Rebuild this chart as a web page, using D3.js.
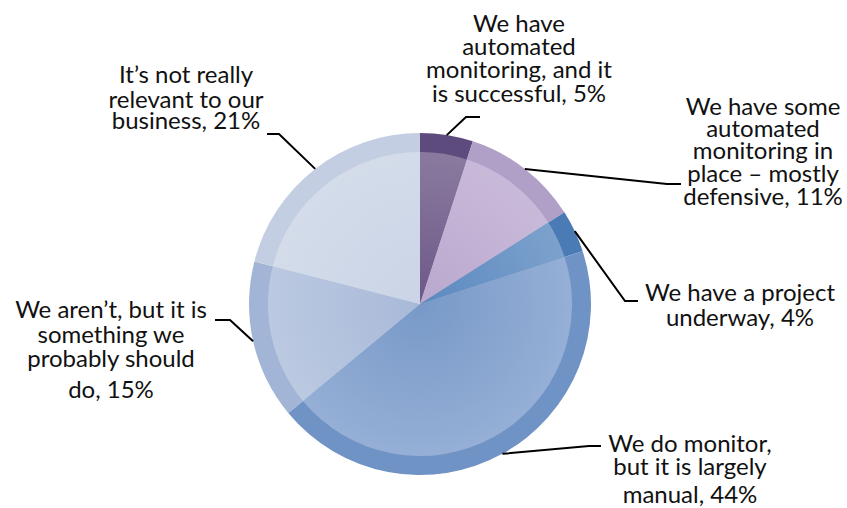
<!DOCTYPE html>
<html>
<head>
<meta charset="utf-8">
<script src="https://cdn.jsdelivr.net/npm/d3@7"></script>
<style>
  html, body { margin: 0; padding: 0; background: #ffffff; }
  svg { display: block; }
  .lbl { font-family: Lato, "Open Sans", sans-serif; font-size: 24px; fill: #111; }
</style>
</head>
<body>
<svg id="chart" width="847" height="508"></svg>
<script>
// Survey responses, clockwise from 12 o'clock
const categories = [
  "We have automated monitoring, and it is successful",
  "We have some automated monitoring in place – mostly defensive",
  "We have a project underway",
  "We do monitor, but it is largely manual",
  "We aren’t, but it is something we probably should do",
  "It’s not really relevant to our business"
];
const values = [5, 11, 4, 44, 15, 21];

// Label text broken into lines
const labelLines = [
  ["We have", "automated", "monitoring, and it", "is successful, 5%"],
  ["We have some", "automated", "monitoring in", "place – mostly", "defensive, 11%"],
  ["We have a project", "underway, 4%"],
  ["We do monitor,", "but it is largely", "manual, 44%"],
  ["We aren’t, but it is", "something we", "probably should", "do, 15%"],
  ["It’s not really", "relevant to our", "business, 21%"]
];

// Colours: solid rim, gradient centre and gradient edge
const rimColors   = ["#5e4b7e", "#b09fc6", "#4a7bb5", "#7093c5", "#a3b5d6", "#c3cee3"];
const innerStart  = ["#6c5888", "#b9a8cd", "#5b89c0", "#7899c7", "#a8b9d8", "#cad4e6"];
const innerEnd    = ["#8a7a9f", "#c9b9d9", "#7ca1cc", "#95afd6", "#bbc9e1", "#d4dcea"];

const width = 847, height = 508;
const cx = 420, cy = 304;
const rOuter = 171, rInner = 152;

const svg = d3.select("#chart");
const defs = svg.append("defs");

values.forEach((v, i) => {
  const g = defs.append("radialGradient")
    .attr("id", "grad" + i)
    .attr("gradientUnits", "userSpaceOnUse")
    .attr("cx", cx).attr("cy", cy).attr("r", rInner);
  g.append("stop").attr("offset", "0%").attr("stop-color", innerStart[i]);
  g.append("stop").attr("offset", "100%").attr("stop-color", innerEnd[i]);
});

const pie = d3.pie().sort(null).value(d => d);
const arcs = pie(values);

const rimArc = d3.arc().innerRadius(0).outerRadius(rOuter);
const coreArc = d3.arc().innerRadius(0).outerRadius(rInner);

const gPie = svg.append("g").attr("transform", `translate(${cx},${cy})`);

gPie.selectAll("path.rim")
  .data(arcs)
  .join("path")
  .attr("class", "rim")
  .attr("d", rimArc)
  .attr("fill", (d, i) => rimColors[i]);

gPie.selectAll("path.core")
  .data(arcs)
  .join("path")
  .attr("class", "core")
  .attr("d", coreArc)
  .attr("fill", (d, i) => `url(#grad${i})`)
  .attr("transform", `translate(${-cx},${-cy})`)
  .attr("d", d => {
    // core drawn in page coordinates so the gradient centre lines up
    const p = d3.path();
    const a0 = d.startAngle - Math.PI / 2, a1 = d.endAngle - Math.PI / 2;
    p.moveTo(cx, cy);
    p.arc(cx, cy, rInner, a0, a1);
    p.closePath();
    return p.toString();
  });

// Label placement: text centre x, first baseline y, line gaps; leader elbow and end
const labelLayout = [
  { x: 519, y: 32,  gaps: [23, 23, 24],     elbow: [466, 117], end: [480, 117] },
  { x: 763, y: 115, gaps: [22, 22, 23, 23], elbow: [667, 184], end: [681, 184] },
  { x: 740, y: 301, gaps: [25],             elbow: [625, 301], end: [638, 301] },
  { x: 690, y: 452, gaps: [23, 28],         elbow: [589, 446], end: [601, 446] },
  { x: 111, y: 318, gaps: [25, 24, 31],     elbow: [230, 320], end: [215, 320] },
  { x: 186, y: 83,  gaps: [25, 21],         elbow: [279, 134], end: [267, 134] }
];

const gLab = svg.append("g");

arcs.forEach((d, i) => {
  const mid = (d.startAngle + d.endAngle) / 2;
  const sx = cx + rOuter * Math.sin(mid);
  const sy = cy - rOuter * Math.cos(mid);
  const L = labelLayout[i];
  gLab.append("path")
    .attr("d", d3.line()([[sx, sy], L.elbow, L.end]))
    .attr("fill", "none")
    .attr("stroke", "#000")
    .attr("stroke-width", 2);

  const t = gLab.append("text").attr("class", "lbl").attr("text-anchor", "middle");
  let y = L.y;
  labelLines[i].forEach((line, j) => {
    if (j > 0) y += L.gaps[j - 1];
    t.append("tspan").attr("x", L.x).attr("y", y).text(line);
  });
});
</script>
</body>
</html>
